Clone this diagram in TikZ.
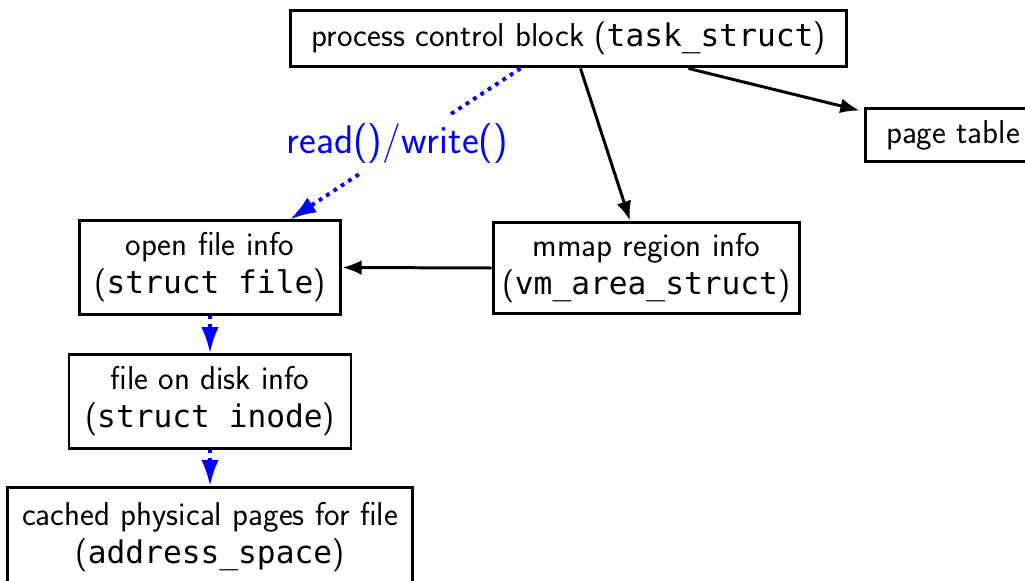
\documentclass[tikz,border=0pt]{standalone}
\usepackage{fontspec}
\setmonofont{DejaVu Sans Mono}[Scale=0.945]
\renewcommand{\familydefault}{\sfdefault}
\usetikzlibrary{arrows.meta}
\tikzstyle{box}=[draw,line width=1.7pt,align=center,inner sep=5pt,font=\fontsize{18.8}{21.6}\selectfont]
\tikzstyle{arr}=[line width=1.7pt,-{Latex[length=11pt,width=8.5pt]}]
\tikzstyle{rw}=[blue,line width=2.2pt,dash pattern=on 2.2pt off 2.8pt,-{Latex[length=15pt,width=10pt]}]

\begin{document}
\begin{tikzpicture}[x=0.02cm,y=-0.02cm]
     \useasboundingbox (0,0) rectangle (1025,581);
     \node [box,minimum width=317pt,minimum height=32.4pt] (pcb) at (568.5,38.5) {process control block (\texttt{task\_struct})};
     \node [box,minimum width=100pt,minimum height=30.7pt] (ptab) at (953,135) {page table};
     \node [box,minimum width=174.7pt,minimum height=52.3pt] (mmap) at (646.5,268) {mmap region info\\(\texttt{vm\_area\_struct})};
     \node [box,minimum width=149pt,minimum height=53pt] (ofile) at (210,267.5) {open file info\\(\texttt{struct file})};
     \node [box,minimum width=160.5pt,minimum height=53pt,below of=ofile,node distance=2.68cm] (inode) {file on disk info\\(\texttt{struct inode})};
     \node [box,minimum width=230pt,minimum height=56pt,below of=inode,node distance=2.71cm] (cache) {cached physical pages for file\\(\texttt{address\_space})};

     \draw [arr] ([xshift=2.4cm]pcb.south) -- ([xshift=-0.08cm,yshift=-0.08cm]ptab.north west);
     \draw [arr] ([xshift=0.24cm]pcb.south) -- ([xshift=-0.33cm]mmap.north);
     \draw [arr] (mmap.west) -- (ofile.east);
     \draw [rw] ([xshift=-0.96cm]pcb.south) -- node [fill=white,text=blue,inner sep=5pt,xshift=-0.16cm,font=\fontsize{22.7}{27}\selectfont] (rwlbl) {read()/write()} ([xshift=1.6cm]ofile.north);
     \draw [rw] (ofile.south) -- (inode.north);
     \draw [rw] (inode.south) -- (cache.north);
\end{tikzpicture}
\end{document}
